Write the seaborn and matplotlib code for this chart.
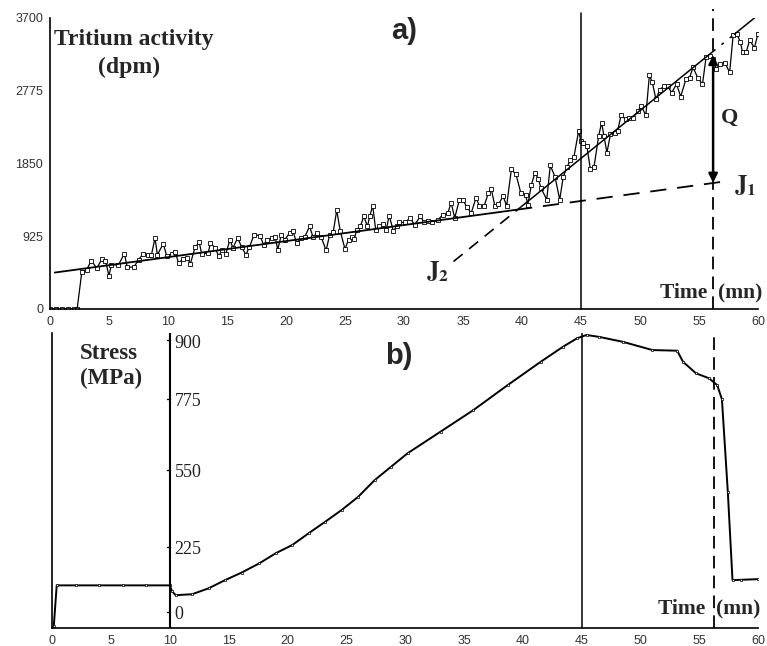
import numpy as np
import pandas as pd
import matplotlib
matplotlib.use("Agg")
import matplotlib.pyplot as plt
from matplotlib.ticker import MultipleLocator, NullFormatter
import seaborn as sns

# ---------------- data ----------------
tritium_time = [0, 0.5, 1.0, 1.5, 2.0, 2.3, 2.7, 3.1, 3.5, 3.96, 4.4, 4.7, 5.0, 5.2, 5.8, 6.3, 6.55,
                7.1, 7.5, 7.9, 8.3, 8.6, 8.9, 9.1, 9.6, 9.9, 10.3, 10.6, 10.9, 11.3, 11.6, 11.9, 12.3,
                12.65, 12.85, 13.4, 13.6, 14.0, 14.3, 14.6, 14.9, 15.25, 15.5, 15.9, 16.25, 16.6, 16.9,
                17.3, 17.8, 18.1, 18.4, 18.8, 19.1, 19.3, 19.6, 19.9, 20.3, 20.6, 20.9, 21.3, 21.6, 22.0,
                22.3, 22.6, 23.0, 23.4, 23.7, 24.0, 24.3, 24.6, 25.0, 25.3, 25.6, 25.8, 26.0, 26.3, 26.6,
                26.9, 27.1, 27.35, 27.6, 27.9, 28.2, 28.5, 28.75, 29.1, 29.4, 29.6, 30.1, 30.5, 30.9,
                31.4, 31.7, 32.0, 32.4, 32.9, 33.3, 33.7, 34.0, 34.3, 34.7, 35.0, 35.3, 35.7, 36.1, 36.4,
                36.8, 37.15, 37.4, 37.7, 38.0, 38.4, 38.7, 39.1, 39.5, 39.9, 40.3, 40.5, 40.8, 41.1, 41.4,
                41.6, 42.1, 42.4, 42.8, 43.2, 43.5, 43.8, 44.1, 44.4, 44.8, 45.0, 45.2, 45.5, 45.8, 46.1,
                46.5, 46.75, 46.95, 47.2, 47.5, 47.9, 48.1, 48.4, 48.8, 49.1, 49.4, 49.85, 50.1, 50.5,
                50.8, 51.05, 51.35, 51.7, 52.0, 52.35, 52.7, 53.1, 53.45, 53.9, 54.2, 54.5, 54.9, 55.3,
                55.6, 55.9, 56.2, 56.45, 56.75, 57.2, 57.6, 57.9, 58.2, 58.5, 58.7, 59.0, 59.3, 59.7, 60.0]
tritium_dpm = [0, 0, 0, 0, 0, 0, 476, 497, 616, 519, 634, 616, 421, 561, 561, 702, 532,
               532, 625, 702, 690, 690, 902, 690, 829, 670, 700, 727, 583, 640, 650, 578, 787,
               846, 702, 710, 838, 776, 670, 755, 700, 880, 776, 902, 787, 689, 787,
               944, 931, 817, 880, 902, 910, 753, 944, 880, 966, 987, 838, 902, 920, 1050,
               910, 966, 910, 744, 944, 975, 1254, 990, 762, 880, 910, 895, 1008, 1050, 1178,
               1050, 1178, 1314, 1010, 1055, 1075, 1010, 1187, 990, 1055, 1100, 1100, 1157, 1072,
               1178, 1100, 1115, 1100, 1136, 1200, 1215, 1349, 1157, 1391, 1391, 1300, 1221, 1412, 1310,
               1310, 1476, 1527, 1310, 1330, 1433, 1310, 1774, 1710, 1476, 1455, 1327, 1582, 1731, 1650,
               1540, 1391, 1825, 1680, 1391, 1680, 1800, 1890, 1930, 2262, 2130, 2114, 2071, 1774, 1800,
               2199, 2369, 2200, 1987, 2220, 2240, 2260, 2463, 2410, 2430, 2430, 2518, 2581, 2463,
               2973, 2880, 2667, 2790, 2830, 2830, 2752, 2860, 2701, 2920, 2940, 3071, 2940, 2858,
               3199, 3220, 3180, 3050, 3110, 3130, 3008, 3483, 3495, 3400, 3263, 3263, 3420, 3320, 3500]

# fitted lines (endpoints)
j1_solid_t = [0.4, 39.5]
j1_solid_v = [463, 1261]
j1_dash_t = [39.5, 57.6]
j1_dash_v = [1261, 1630]
j2_dash_t = [34.2, 39.5]
j2_dash_v = [604, 1247]
j2_solid_t = [39.5, 56.2]
j2_solid_v = [1247, 3275]
j2_dash2_t = [56.2, 58.0]
j2_dash2_v = [3275, 3493]
j2_end_t = [58.0, 59.8]
j2_end_v = [3493, 3712]

q_time = 56.2
q_top, q_bottom = 3230, 1604

tritium_yticks = [0, 925, 1850, 2775, 3700]

stress_time = [0, 0.15, 0.4, 2, 4, 6, 8, 10, 10.2, 10.5, 11.9, 13.3, 14.7, 16.1, 17.6, 19.0, 20.4,
               21.8, 23.2, 24.6, 26.0, 27.4, 28.8, 30.2, 33.0, 35.8, 38.7, 41.5, 43.4, 44.6, 45.4,
               46.5, 48.5, 51.0, 53.1, 53.6, 54.7, 55.8, 56.5, 56.9, 57.4, 57.8, 58.5, 60]
stress_mpa = [0, 5, 130, 130, 130, 130, 130, 130, 112, 100, 103, 121, 146, 169, 197, 228, 253,
              289, 324, 360, 400, 451, 492, 533, 599, 665, 741, 812, 858, 884, 894,
              888, 873, 848, 846, 812, 777, 762, 741, 698, 416, 146, 147, 149]
stress_labels = ["0", "225", "550", "775", "900"]

xticks = list(range(0, 61, 5))

# ---------------- style ----------------
sns.set_style("white")
plt.rcParams["font.family"] = ["Liberation Sans", "DejaVu Sans"]
plt.rcParams["mathtext.fontset"] = "stix"
SERIF = ["Liberation Serif", "DejaVu Serif"]
TICKCOL = "#333333"

fig = plt.figure(figsize=(7.67, 6.46), dpi=100)
ax1 = fig.add_axes([0.0652, 0.5217, 0.923, 0.4505])
ax2 = fig.add_axes([0.0678, 0.0279, 0.921, 0.4566])

mk = dict(marker="s", markersize=2.6, markerfacecolor="white", markeredgecolor="black",
          markeredgewidth=0.6)

# ---------------- panel a ----------------
df_a = pd.DataFrame({"t": tritium_time, "v": tritium_dpm})
sns.lineplot(data=df_a, x="t", y="v", ax=ax1, color="black", linewidth=0.9, **mk)

ax1.plot(j1_solid_t, j1_solid_v, color="black", lw=1.3)
ax1.plot(j1_dash_t, j1_dash_v, color="black", lw=1.3, dashes=(9, 6))
ax1.plot(j2_dash_t, j2_dash_v, color="black", lw=1.2, dashes=(7, 5))
ax1.plot(j2_solid_t, j2_solid_v, color="black", lw=1.1)
ax1.plot(j2_dash2_t, j2_dash2_v, color="black", lw=1.1, dashes=(2, 5))
ax1.plot(j2_end_t, j2_end_v, color="black", lw=1.1)

ax1.axvline(45, ymin=0, ymax=1.018, color="black", lw=1.1, clip_on=False)
ax1.axvline(q_time, ymin=0, ymax=1.03, color="black", lw=1.3, dashes=(7, 4), clip_on=False)
ax1.annotate("", xy=(q_time, q_bottom), xytext=(q_time, q_top),
             arrowprops=dict(arrowstyle="<|-|>", lw=1.8, color="black", mutation_scale=13,
                             shrinkA=0, shrinkB=0))

ax1.set_xlim(0, 60)
ax1.set_ylim(0, 3700)
ax1.set_xticks(xticks)
ax1.set_yticks(tritium_yticks)
ax1.xaxis.set_minor_locator(MultipleLocator(1))
ax1.yaxis.set_minor_locator(MultipleLocator(185))
for a in (ax1, ax2):
    for s in ("top", "right"):
        a.spines[s].set_visible(False)
    for s in ("left", "bottom"):
        a.spines[s].set_color("black")
        a.spines[s].set_linewidth(1.2)
    a.tick_params(axis="both", which="major", direction="out", length=4, width=1,
                  labelsize=9, labelcolor=TICKCOL, pad=1, color="black")
    a.tick_params(axis="both", which="minor", direction="out", length=2, width=0.8, color="black")
    a.set_xlabel("")
    a.set_ylabel("")

ax1.text(0.35, 3432, "Tritium activity", fontfamily=SERIF, fontweight="bold", fontsize=17,
         ha="left", va="center")
ax1.text(6.7, 3075, "(dpm)", fontfamily=SERIF, fontweight="bold", fontsize=17,
         ha="center", va="center")
ax1.text(30.0, 3540, "a)", fontweight="bold", fontsize=21, ha="center", va="center")
ax1.text(56.9, 2430, "Q", fontfamily=SERIF, fontweight="bold", fontsize=16,
         ha="left", va="center")
ax1.text(58.0, 1570, r"$\mathbf{J}_{\mathbf{1}}$", fontsize=18, ha="left", va="center")
ax1.text(31.9, 470, r"$\mathbf{J}_{\mathbf{2}}$", fontsize=18, ha="left", va="center")
ax1.text(60.4, 205, "Time  (mn)", fontfamily=SERIF, fontweight="bold", fontsize=15.5,
         ha="right", va="center")

# ---------------- panel b ----------------
df_b = pd.DataFrame({"t": stress_time, "s": stress_mpa})
sns.lineplot(data=df_b, x="t", y="s", ax=ax2, color="black", linewidth=1.4,
             marker="s", markersize=2.0, markerfacecolor="white", markeredgecolor="black",
             markeredgewidth=0.5)

ax2.set_xlim(0, 60)
ax2.set_ylim(0, 900)
ax2.set_xticks(xticks)
ax2.xaxis.set_minor_locator(MultipleLocator(1))
ax2.yaxis.set_major_locator(MultipleLocator(112.5))
ax2.yaxis.set_major_formatter(NullFormatter())
ax2.axvline(10, color="black", lw=1.5)
ax2.axvline(45, color="black", lw=1.1)
ax2.axvline(q_time, color="black", lw=1.3, dashes=(7, 4))
ax2.set_xlabel("")
ax2.set_ylabel("")

label_pos = [40, 238, 473, 690, 869]
for lab, pos in zip(stress_labels, label_pos):
    ax2.text(10.4, pos, lab, fontfamily=SERIF, fontsize=13, ha="left", va="center",
             color="#222222")
    ax2.plot([9.8, 10], [pos + 10, pos + 10], color="black", lw=1)

ax2.text(4.8, 838, "Stress", fontfamily=SERIF, fontweight="bold", fontsize=16.5,
         ha="center", va="center")
ax2.text(5.0, 760, "(MPa)", fontfamily=SERIF, fontweight="bold", fontsize=16.5,
         ha="center", va="center")
ax2.text(29.5, 830, "b)", fontweight="bold", fontsize=21, ha="center", va="center")
ax2.text(60.2, 60, "Time  (mn)", fontfamily=SERIF, fontweight="bold", fontsize=15.5,
         ha="right", va="center")

fig.savefig("out.png", dpi=100)
